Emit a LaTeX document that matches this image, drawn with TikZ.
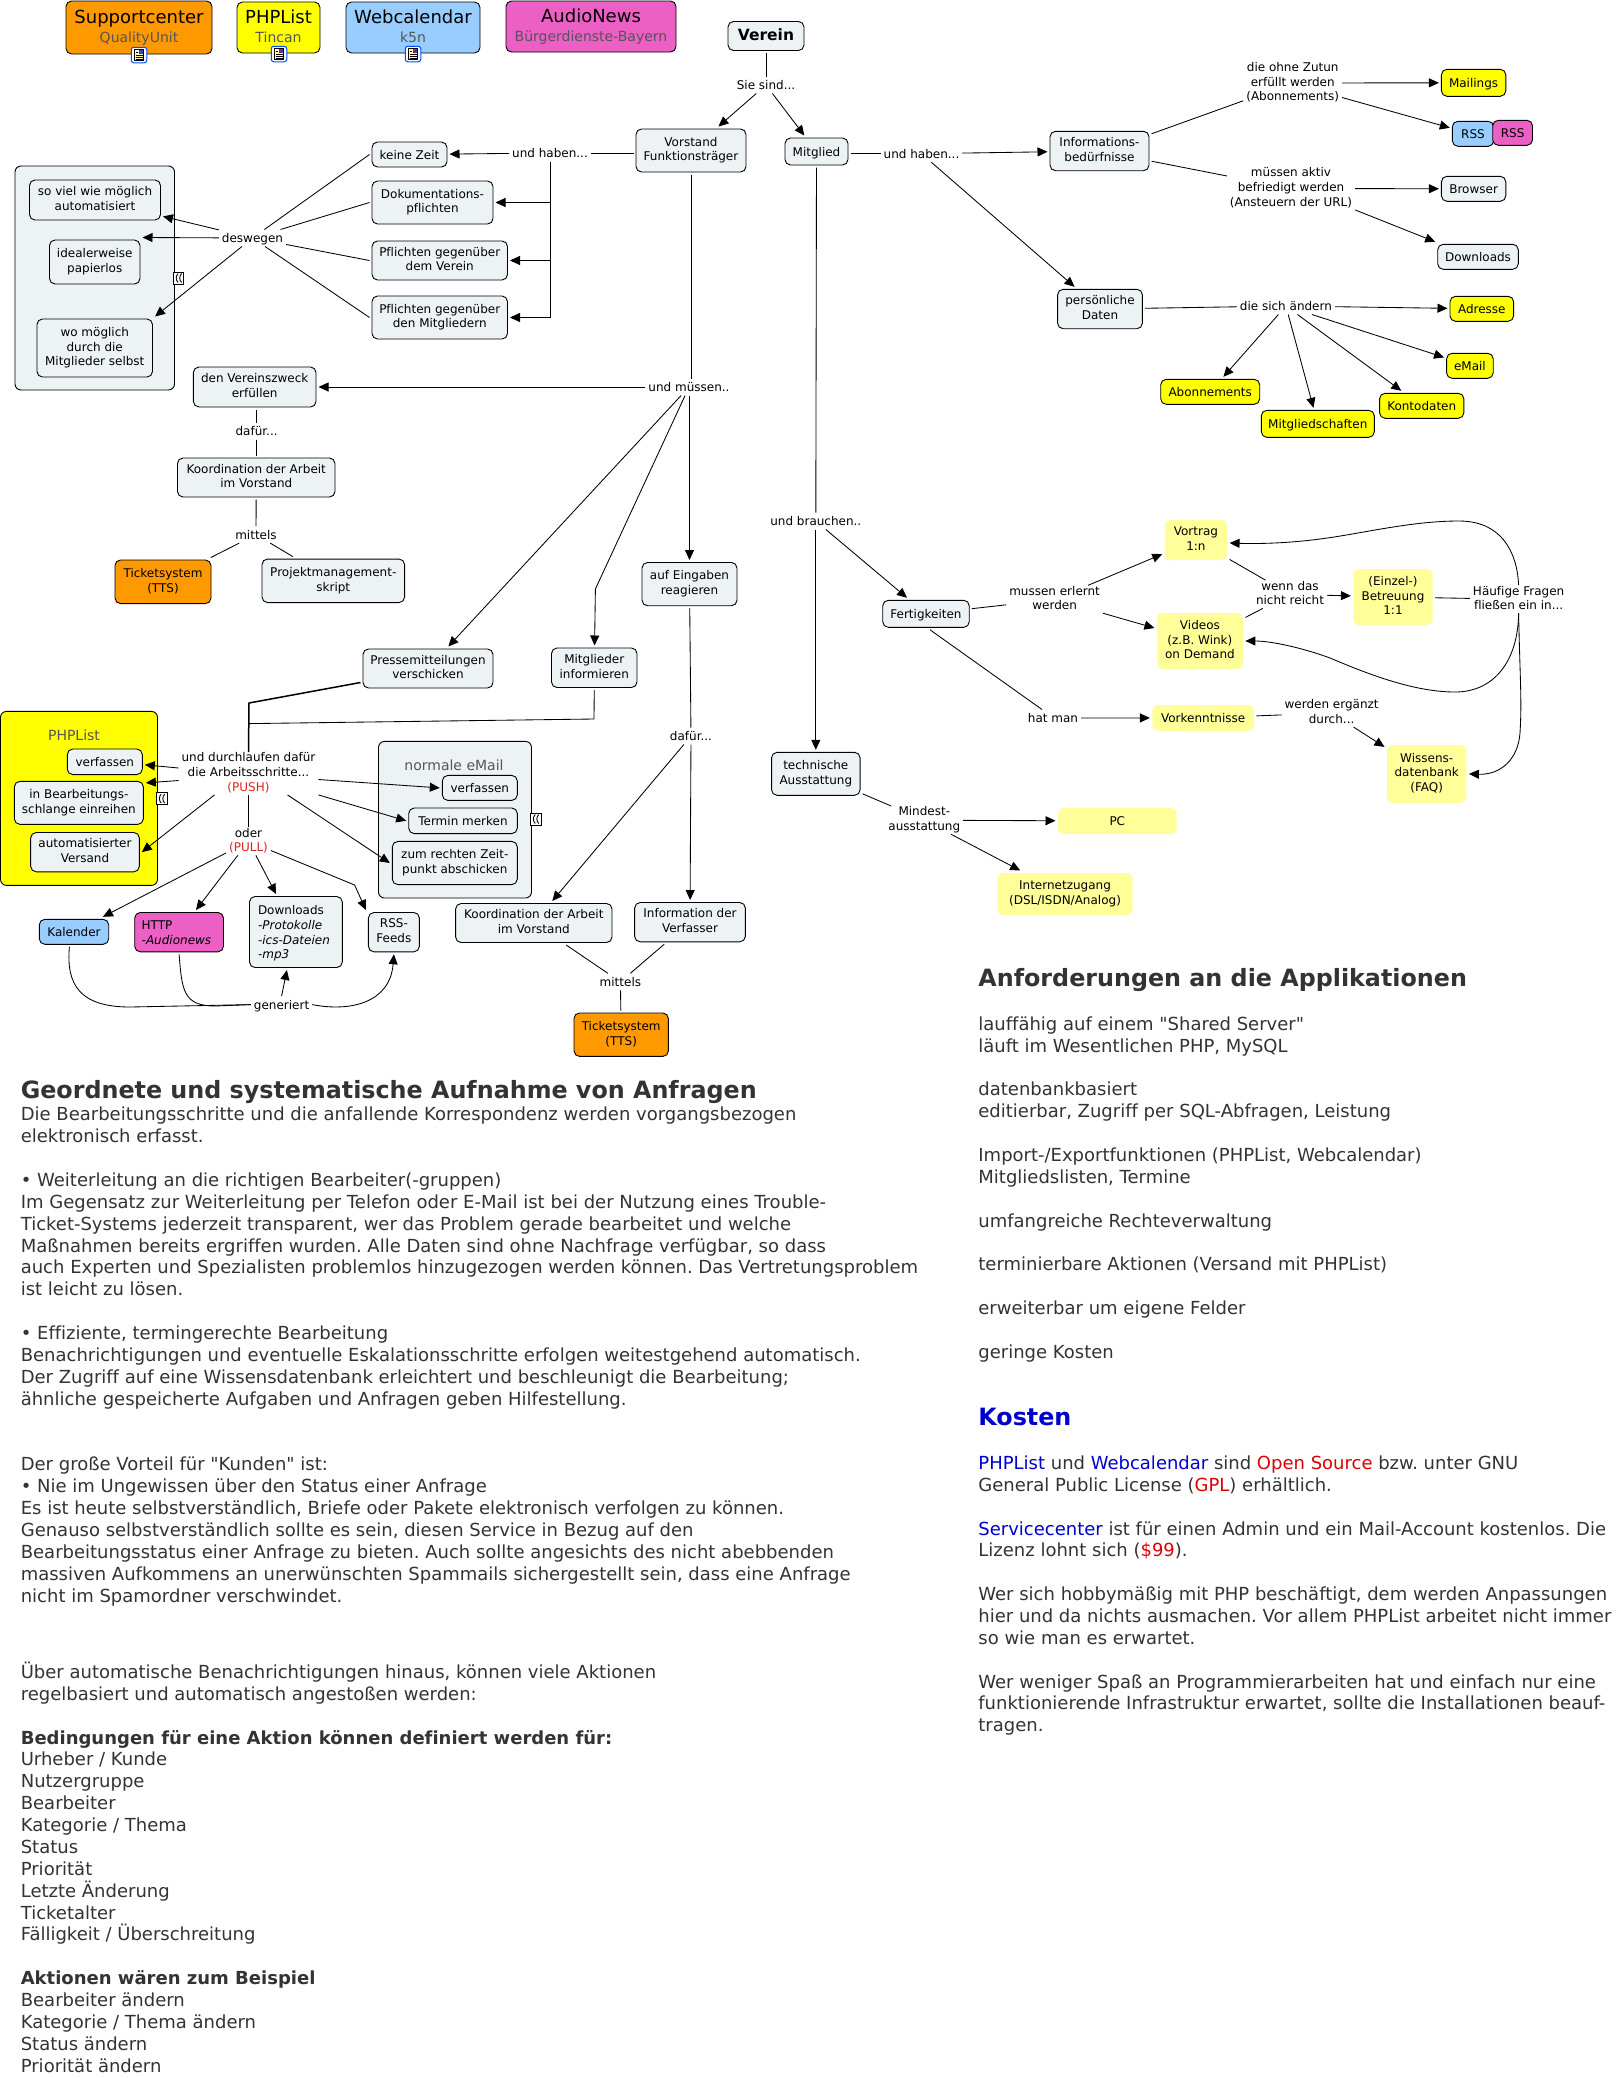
\documentclass[tikz,border=0pt]{standalone}
\usepackage{fontspec}
\setmainfont[Ligatures={NoCommon,TeXOff}]{DejaVu Sans}
\usetikzlibrary{arrows.meta,calc}
\definecolor{nfill}{HTML}{EDF3F5}
\definecolor{cyel}{HTML}{FFFF00}
\definecolor{cpale}{HTML}{FFFF99}
\definecolor{corg}{HTML}{FF9900}
\definecolor{cblu}{HTML}{99CCFF}
\definecolor{cpnk}{HTML}{EC5FC4}
\definecolor{csub}{HTML}{555555}
\definecolor{txt}{HTML}{333333}
\definecolor{pushred}{HTML}{DD2222}
\definecolor{lnkb}{HTML}{0000CC}
\definecolor{lnkr}{HTML}{DD0000}
\newcommand\smalltxt{\fontsize{12}{14.6}\selectfont}
\newcommand\bodytxt{\fontsize{18}{21.87}\selectfont\frenchspacing}
\newcommand\headtxt{\fontsize{23.8}{28}\selectfont\bfseries}
\tikzset{
  sz/.style 2 args={minimum width=#1pt,minimum height=#2pt},
  cbox/.style={draw=black,line width=.9pt,rounded corners=5.5pt,fill=nfill,align=center,
    inner sep=0pt,outer sep=2.5pt,font=\smalltxt,text=black,
    execute at begin node={\rule{0pt}{12.5pt}},execute at end node={\rule[-3pt]{0pt}{3pt}}},
  ybox/.style={cbox,fill=cyel},
  obox/.style={cbox,fill=corg},
  bbox/.style={cbox,fill=cblu},
  pbox/.style={cbox,fill=cpnk},
  lbox/.style={cbox,fill=cpale,draw=none},
  appbox/.style={cbox,font=\fontsize{18}{19}\selectfont},
  grpbox/.style={draw=black,line width=.9pt,rounded corners=6pt,inner sep=0pt},
  lbl/.style={align=center,inner xsep=3pt,inner ysep=.75pt,outer sep=0pt,font=\smalltxt,text=black,
    execute at begin node={\rule{0pt}{12.5pt}},execute at end node={\rule[-3pt]{0pt}{3pt}}},
  grptitle/.style={font=\fontsize{14}{17}\selectfont,text=#1,inner sep=0pt},
  blocktxt/.style={anchor=north west,inner sep=0pt,align=left,font=\bodytxt,text=txt,
    execute at begin node={\rule{0pt}{17pt}}},
  headnode/.style={anchor=base west,inner sep=0pt,font=\headtxt,text=txt},
  ln/.style={draw=black,line width=.85pt},
  arr/.style={ln,-{Triangle[length=10pt,width=9pt]}},
  iconnode/.style={draw=blue!70!cyan,fill=white,line width=1pt,rounded corners=2.5pt,minimum width=15.5pt,minimum height=15.5pt,inner sep=0pt},
  foldnode/.style={draw=black,fill=white,line width=.9pt,minimum width=10.5pt,minimum height=12pt,inner sep=0pt}
}
\newcommand\subfont{\fontsize{14}{19}\selectfont\color{csub}}
\newcommand\noteicon[3]{%
  \node[iconnode] (#1) at (#2,#3) {};
  \fill[cpale!70!white,draw=black,line width=.5pt] ($(#1.center)+(-4.5pt,-5.5pt)$) rectangle ($(#1.center)+(4.5pt,5.5pt)$);
  \fill[blue!50!gray] ($(#1.center)+(-.5pt,1pt)$) rectangle ($(#1.center)+(3.8pt,4.8pt)$);
  \fill[red!70!black] ($(#1.center)+(-.5pt,1pt)$) rectangle ($(#1.center)+(1.5pt,2.5pt)$);
  \draw[black,line width=.7pt] ($(#1.center)+(-3.5pt,3pt)$) -- ++(2pt,0pt)
    ($(#1.center)+(-3.5pt,-.7pt)$) -- ++(7pt,0pt)
    ($(#1.center)+(-3.5pt,-2.5pt)$) -- ++(7pt,0pt)
    ($(#1.center)+(-3.5pt,-4.2pt)$) -- ++(7pt,0pt);}
\newcommand\foldicon[3]{%
  \node[foldnode] (#1) at (#2,#3) {};
  \draw[black,line width=.9pt] ($(#1.center)+(-.5pt,4.5pt)$) .. controls ($(#1.center)+(-3pt,1.5pt)$) and ($(#1.center)+(-3pt,-1.5pt)$) .. ($(#1.center)+(-.5pt,-4.5pt)$)
    ($(#1.center)+(3pt,4.5pt)$) .. controls ($(#1.center)+(.5pt,1.5pt)$) and ($(#1.center)+(.5pt,-1.5pt)$) .. ($(#1.center)+(3pt,-4.5pt)$);}
\begin{document}
\begin{tikzpicture}[x=1pt,y=-1pt]
\fill[white] (0,0) rectangle (1621,2078);
\useasboundingbox (0,0) rectangle (1621,2078);

% application boxes
\node[appbox,fill=corg,sz={146}{53}] (sc) at (139,27.5) {Supportcenter\\{\subfont QualityUnit}};
\node[appbox,fill=cyel,sz={83}{51}] (pl) at (278.5,27.5) {PHPList\\{\subfont Tincan}};
\node[appbox,fill=cblu,sz={134}{51}] (wc) at (413,27.5) {Webcalendar\\{\subfont k5n}};
\node[appbox,fill=cpnk,sz={170}{51}] (an) at (591,26.5) {AudioNews\\{\subfont Bürgerdienste-Bayern}};
\noteicon{ic1}{139}{55}
\noteicon{ic2}{279}{54}
\noteicon{ic3}{413}{54}

% groups
\node[grpbox,fill=nfill,sz={159.5}{224}] (grp1) at (94.75,278) {};
\node[grpbox,fill=cyel,sz={157}{174}] (grp2) at (79,798.4) {};
\node[grpbox,fill=nfill,sz={153}{156.6}] (grp3) at (455,819.7) {};
\node[grptitle=csub] (grp2t) at (74,735) {PHPList};
\node[grptitle=csub] (grp3t) at (454,765.7) {normale eMail};
\foldicon{fo1}{178.6}{278}
\foldicon{fo2}{161.7}{798.6}
\foldicon{fo3}{535.7}{819}

% concept nodes - centre
\node[cbox,sz={76}{29},font=\fontsize{15.5}{18}\selectfont\bfseries] (verein) at (766,36) {Verein};
\node[lbl] (siesind) at (766,85) {Sie sind...};
\node[cbox,sz={110}{43}] (vorstand) at (691,150.5) {Vorstand\\Funktionsträger};
\node[cbox,sz={63}{27}] (mitglied) at (816.5,151.5) {Mitglied};

% left duties
\node[cbox,sz={75}{25}] (keine) at (409.5,154.5) {keine Zeit};
\node[cbox,sz={121}{43}] (doku) at (432.5,202.5) {Dokumentations-\\pflichten};
\node[cbox,sz={135.5}{39}] (pfver) at (439.75,260.5) {Pflichten gegenüber\\dem Verein};
\node[cbox,sz={135.5}{43}] (pfmit) at (439.75,317.5) {Pflichten gegenüber\\den Mitgliedern};
\node[lbl] (haben1) at (550,153) {und haben...};
\node[lbl] (deswegen) at (252.5,238) {deswegen};
\node[cbox,sz={131}{40}] (soviel) at (95,200) {so viel wie möglich\\automatisiert};
\node[cbox,sz={90.5}{44}] (ideal) at (94.75,262) {idealerweise\\papierlos};
\node[cbox,sz={115.5}{58}] (womog) at (94.75,348) {wo möglich\\durch die\\Mitglieder selbst};

% müssen
\node[lbl] (muessen) at (689,387) {und müssen..};
\node[cbox,sz={122.6}{40}] (zweck) at (254.7,387) {den Vereinszweck\\erfüllen};
\node[lbl] (dafuer1) at (256.6,431) {dafür...};
\node[cbox,sz={157.5}{39}] (koord1) at (256.25,477.5) {Koordination der Arbeit\\im Vorstand};
\node[lbl] (mittels1) at (256,534.6) {mittels};
\node[obox,sz={96}{43.6}] (ticket1) at (163,581.8) {Ticketsystem\\(TTS)};
\node[cbox,sz={142.6}{43.5}] (projekt) at (333.3,580.8) {Projektmanagement-\\skript};
\node[cbox,sz={95}{43.2}] (eingaben) at (689.5,584.1) {auf Eingaben\\reagieren};
\node[cbox,sz={130}{39}] (presse) at (428,668.5) {Pressemitteilungen\\verschicken};
\node[cbox,sz={85.5}{39.5}] (miinfo) at (594.25,667.75) {Mitglieder\\informieren};
\coordinate (mibend) at (595.4,589);
\coordinate (prbend) at (249,703);
\coordinate (mibend2) at (594,719);
\coordinate (join) at (249,723.6);

% push / pull
\node[lbl] (durch) at (248.5,773.5) {und durchlaufen dafür\\die Arbeitsschritte...\\\textcolor{pushred}{(PUSH)}};
\node[cbox,sz={75}{25.6}] (pverf) at (104.8,761.8) {verfassen};
\node[cbox,sz={129}{43}] (pbear) at (78.85,802.85) {in Bearbeitungs-\\schlange einreihen};
\node[cbox,sz={108.7}{39.3}] (pauto) at (85,852.15) {automatisierter\\Versand};
\node[cbox,sz={75}{25}] (everf) at (479.8,787.9) {verfassen};
\node[cbox,sz={108.6}{25.6}] (termin) at (463,820.8) {Termin merken};
\node[cbox,sz={125}{43.2}] (zum) at (454.8,863) {zum rechten Zeit-\\punkt abschicken};
\node[lbl] (oder) at (248.5,841.3) {oder\\\textcolor{pushred}{(PULL)}};
\node[bbox,sz={69.4}{25}] (kalender) at (74,931.8) {Kalender};
\node[pbox,sz={88.8}{39.3},align=left,text width=74.8pt,inner xsep=7pt] (http) at (179.1,932.15) {HTTP\\\textit{-Audionews}};
\node[cbox,sz={92.8}{71},align=left,text width=75.8pt,inner xsep=8.5pt] (dlnode) at (295.9,932) {Downloads\\\textit{-Protokolle}\\\textit{-ics-Dateien}\\\textit{-mp3}};
\node[cbox,sz={51}{39.3}] (rssfeeds) at (393.9,932.15) {RSS-\\Feeds};
\coordinate (rssbend) at (354.6,885);
\node[lbl] (generiert) at (281.6,1004.6) {generiert};

% dafür 2
\node[lbl] (dafuer2) at (691,736) {dafür...};
\node[cbox,sz={156.4}{39}] (koord2) at (533.8,923) {Koordination der Arbeit\\im Vorstand};
\node[cbox,sz={110.7}{39.3}] (infover) at (690,922.15) {Information der\\Verfasser};
\node[lbl] (mittels2) at (620.4,981.8) {mittels};
\node[obox,sz={94.4}{43.4}] (ticket2) at (621.2,1034.7) {Ticketsystem\\(TTS)};

% right top
\node[lbl] (haben2) at (921.5,153.7) {und haben...};
\node[cbox,sz={99}{39.4}] (infobed) at (1099.5,151) {Informations-\\bedürfnisse};
\node[cbox,sz={84.8}{39.4}] (pers) at (1100,309) {persönliche\\Daten};
\node[lbl] (dieohne) at (1292.7,83) {die ohne Zutun\\erfüllt werden\\(Abonnements)};
\node[lbl] (aktiv) at (1291,188.5) {müssen aktiv\\befriedigt werden\\(Ansteuern der URL)};
\node[ybox,sz={64.4}{27}] (mailings) at (1473.6,82.8) {Mailings};
\node[bbox,sz={41.3}{25}] (rssb) at (1473,133.8) {RSS};
\node[pbox,sz={39.8}{25}] (rssp) at (1512.6,132.8) {RSS};
\node[cbox,sz={64.4}{25}] (browser) at (1473.6,188.8) {Browser};
\node[cbox,sz={80.6}{25}] (dlright) at (1478,256.8) {Downloads};
\node[lbl] (diesich) at (1285.9,306) {die sich ändern};
\node[ybox,sz={63.6}{25}] (adresse) at (1481.8,308.8) {Adresse};
\node[ybox,sz={46.6}{25}] (email) at (1469.9,365.8) {eMail};
\node[ybox,sz={99}{25}] (abo) at (1210.2,391.8) {Abonnements};
\node[ybox,sz={113}{27}] (mitgschaft) at (1317.8,423.8) {Mitgliedschaften};
\node[ybox,sz={84.3}{25}] (konto) at (1421.7,405.8) {Kontodaten};

% right middle
\node[lbl] (brauchen) at (815.8,521) {und brauchen..};
\node[cbox,sz={86.5}{27}] (fert) at (926,613.8) {Fertigkeiten};
\node[lbl] (mussen) at (1054.6,599.4) {mussen erlernt\\werden};
\node[lbox,sz={62.3}{40}] (vortrag) at (1195.9,540) {Vortrag\\1:n};
\node[lbox,sz={85.9}{56}] (videos) at (1199.9,641) {Videos\\(z.B. Wink)\\on Demand};
\node[lbl] (wenn) at (1290,594.3) {wenn das\\nicht reicht};
\node[lbox,sz={79.2}{56}] (einzel) at (1393,597) {(Einzel-)\\Betreuung\\1:1};
\node[lbl] (haeufig) at (1518.6,599.3) {Häufige Fragen\\fließen ein in...};
\node[lbl] (hatman) at (1053,718) {hat man};
\node[lbox,sz={101.6}{25.7}] (vork) at (1203.2,717.9) {Vorkenntnisse};
\node[lbl] (werden) at (1331.6,713) {werden ergänzt\\durch...};
\node[lbox,sz={79.4}{57.7}] (wissens) at (1426.7,773.9) {Wissens-\\datenbank\\(FAQ)};
\node[cbox,sz={88.5}{43}] (technik) at (815.8,773.8) {technische\\Ausstattung};
\node[lbl] (mindest) at (924.3,820.2) {Mindest-\\ausstattung};
\node[lbox,sz={118.6}{26}] (pcnode) at (1117.3,821) {PC};
\node[lbox,sz={135.4}{42}] (inet) at (1065,894) {Internetzugang\\(DSL/ISDN/Analog)};

% connectors
\draw[ln] (verein) -- (siesind);
\draw[arr] (siesind) -- (vorstand);
\draw[arr] (siesind) -- (mitglied);
\draw[ln] (haben1) -- (vorstand.west |- haben1);
\draw[arr] (haben1) -- (keine);
\draw[arr] (haben1.south) |- (doku);
\draw[arr] (haben1.south) |- (pfver);
\draw[arr] (haben1.south) |- (pfmit);
\draw[ln] (keine.west) -- (deswegen);
\draw[ln] (doku.west) -- (deswegen);
\draw[ln] (pfver.west) -- (deswegen);
\draw[ln] (pfmit.west) -- (deswegen);
\draw[arr] (deswegen) -- (soviel);
\draw[arr] (deswegen) -- (ideal.north east);
\draw[arr] (deswegen) -- (womog.north east);
\draw[ln] (vorstand.south) -- (vorstand.south |- muessen.north);
\draw[arr] (muessen) -- (zweck);
\draw[ln] (dafuer1) -- (dafuer1 |- zweck.south);
\draw[ln] (dafuer1) -- (dafuer1 |- koord1.north);
\draw[ln] (koord1) -- (mittels1);
\draw[ln] (mittels1) -- (ticket1);
\draw[ln] (mittels1) -- (projekt);
\draw[arr] (muessen) -- (presse);
\draw[arr] (muessen) -- (mibend) -- (miinfo);
\draw[arr] (eingaben |- muessen.south) -- (eingaben);
\draw[line width=1.5pt] ([yshift=-14pt]presse.west) -- (prbend) -- (durch.north);
\draw[ln] (miinfo.south) -- (mibend2) -- (join);
\draw[arr] ([yshift=5.5pt]durch.west) -- ([yshift=-3pt]pverf.east);
\draw[arr] ([yshift=-7pt]durch.west) -- ([yshift=-4pt]pbear.north east);
\draw[arr] ([xshift=-34pt]durch.south) -- (pauto.east);
\draw[arr] ([yshift=-6pt]durch.east) -- (everf.west);
\draw[arr] (durch.south east) -- (termin.west);
\draw[arr] ([xshift=39pt]durch.south) -- (zum.west);
\draw[ln] (durch) -- (oder);
\draw[arr] (oder) -- (kalender);
\draw[arr] (oder) -- (http);
\draw[arr] (oder) -- (dlnode);
\draw[arr] (oder) -- (rssbend) -- (rssfeeds.north west);
\draw[ln] ([xshift=-4.6pt]kalender.south) .. controls (66,985) and (80,1007) .. (130,1007) -- (generiert.west);
\draw[ln] (http.south) .. controls (182,990) and (183,1006) .. (215,1006) -- (generiert.west);
\draw[arr] (generiert.north) -- ([xshift=-9pt]dlnode.south);
\draw[arr] (generiert.east) .. controls (350,1012) and (390,1003) .. (rssfeeds.south);
\draw[ln] (eingaben) -- (dafuer2);
\draw[arr] (dafuer2) -- (infover);
\draw[arr] (dafuer2) -- (koord2);
\draw[ln] (koord2) -- (mittels2);
\draw[ln] (infover) -- (mittels2);
\draw[ln] (mittels2) -- (ticket2);
\draw[ln] (mitglied.east |- haben2) -- (haben2);
\draw[arr] (haben2) -- (infobed);
\draw[arr] (haben2) -- (pers);
\draw[ln] ([yshift=-5pt]infobed.north east) -- (dieohne);
\draw[ln] ([yshift=12pt]infobed.south east) -- (aktiv);
\draw[arr] (dieohne) -- (mailings);
\draw[arr] ([yshift=-14.5pt]dieohne.east) -- ([yshift=6pt]rssb.west);
\draw[arr] (aktiv) -- (browser);
\draw[arr] (aktiv.south east) -- (dlright.north west);
\draw[ln] (pers) -- (diesich);
\draw[arr] (diesich) -- (adresse);
\draw[arr] (diesich) -- (abo);
\draw[arr] (diesich) -- (mitgschaft);
\draw[arr] (diesich) -- (konto);
\draw[arr] (diesich) -- (email);
\draw[ln] (mitglied) -- (brauchen);
\draw[arr] (brauchen) -- (technik);
\draw[arr] (brauchen) -- (fert);
\draw[ln] (fert) -- (mussen);
\draw[arr] (mussen) -- (vortrag);
\draw[arr] (mussen) -- (videos);
\draw[ln] ([xshift=4pt]fert.south) -- ([xshift=-11pt]hatman.north);
\draw[arr] (hatman) -- (vork);
\draw[ln] (vork) -- (werden);
\draw[arr] (werden) -- (wissens);
\draw[ln] (vortrag) -- (wenn);
\draw[ln] (videos) -- (wenn);
\draw[arr] (wenn) -- (einzel);
\draw[ln] (einzel) -- (haeufig);
\draw[arr] (haeufig.north) .. controls (1517,550) and (1500,521) .. (1459,521)
   .. controls (1410,521) and (1360,534) .. (1320,539)
   .. controls (1290,543) and (1260,544) .. ([yshift=-3pt]vortrag.east);
\draw[arr] (haeufig.south) .. controls (1518,660) and (1495,692) .. (1455,692)
   .. controls (1415,692) and (1370,675) .. (1330,658)
   .. controls (1300,647) and (1270,641) .. (videos.east);
\draw[arr] (haeufig.south) .. controls (1520,680) and (1522,700) .. (1520,733)
   .. controls (1518,760) and (1500,775) .. (wissens.east);
\draw[ln] (technik) -- (mindest);
\draw[arr] (mindest) -- (pcnode);
\draw[arr] (mindest) -- (inet);

% text blocks
\node[headnode] (h1) at (20.6,1098.3) {Geordnete und systematische Aufnahme von Anfragen};
\node[blocktxt] (t1) at (20.6,1107) {Die Bearbeitungsschritte und die anfallende Korrespondenz werden vorgangsbezogen\\
elektronisch erfasst.\\
\mbox{}\\
• Weiterleitung an die richtigen Bearbeiter(-gruppen)\\
Im Gegensatz zur Weiterleitung per Telefon oder E-Mail ist bei der Nutzung eines Trouble-\\
Ticket-Systems jederzeit transparent, wer das Problem gerade bearbeitet und welche\\
Maßnahmen bereits ergriffen wurden. Alle Daten sind ohne Nachfrage verfügbar, so dass\\
auch Experten und Spezialisten problemlos hinzugezogen werden können. Das Vertretungsproblem\\
ist leicht zu lösen.\\
\mbox{}\\
• Effiziente, termingerechte Bearbeitung\\
Benachrichtigungen und eventuelle Eskalationsschritte erfolgen weitestgehend automatisch.\\
Der Zugriff auf eine Wissensdatenbank erleichtert und beschleunigt die Bearbeitung;\\
ähnliche gespeicherte Aufgaben und Anfragen geben Hilfestellung.\\
\mbox{}\\
\mbox{}\\
Der große Vorteil für "Kunden" ist:\\
• Nie im Ungewissen über den Status einer Anfrage\\
Es ist heute selbstverständlich, Briefe oder Pakete elektronisch verfolgen zu können.\\
Genauso selbstverständlich sollte es sein, diesen Service in Bezug auf den\\
Bearbeitungsstatus einer Anfrage zu bieten. Auch sollte angesichts des nicht abebbenden\\
massiven Aufkommens an unerwünschten Spammails sichergestellt sein, dass eine Anfrage\\
nicht im Spamordner verschwindet.};
\node[blocktxt] (t2) at (20.6,1661.8) {Über automatische Benachrichtigungen hinaus, können viele Aktionen\\
regelbasiert und automatisch angestoßen werden:\\
\mbox{}\\
\textbf{Bedingungen für eine Aktion können definiert werden für:}\\
Urheber / Kunde\\
Nutzergruppe\\
Bearbeiter\\
Kategorie / Thema\\
Status\\
Priorität\\
Letzte Änderung\\
Ticketalter\\
Fälligkeit / Überschreitung\\
\mbox{}\\
\textbf{Aktionen wären zum Beispiel}\\
Bearbeiter ändern\\
Kategorie / Thema ändern\\
Status ändern\\
Priorität ändern};
\node[headnode] (h2) at (978.2,986) {Anforderungen an die Applikationen};
\node[blocktxt] (t3) at (978.2,1016.3) {lauffähig auf einem "Shared Server"\\
läuft im Wesentlichen PHP, MySQL\\
\mbox{}\\
datenbankbasiert\\
editierbar, Zugriff per SQL-Abfragen, Leistung\\
\mbox{}\\
Import-/Exportfunktionen (PHPList, Webcalendar)\\
Mitgliedslisten, Termine\\
\mbox{}\\
umfangreiche Rechteverwaltung\\
\mbox{}\\
terminierbare Aktionen (Versand mit PHPList)\\
\mbox{}\\
erweiterbar um eigene Felder\\
\mbox{}\\
geringe Kosten};
\node[headnode,text=lnkb] (h3) at (978.2,1425.3) {Kosten};
\node[blocktxt] (t4) at (978.2,1455.5) {\textcolor{lnkb}{PHPList} und \textcolor{lnkb}{Webcalendar} sind \textcolor{lnkr}{Open Source} bzw. unter GNU\\
General Public License (\textcolor{lnkr}{GPL}) erhältlich.\\
\mbox{}\\
\textcolor{lnkb}{Servicecenter} ist für einen Admin und ein Mail-Account kostenlos. Die\\
Lizenz lohnt sich (\textcolor{lnkr}{\$99}).\\
\mbox{}\\
Wer sich hobbymäßig mit PHP beschäftigt, dem werden Anpassungen\\
hier und da nichts ausmachen. Vor allem PHPList arbeitet nicht immer\\
so wie man es erwartet.\\
\mbox{}\\
Wer weniger Spaß an Programmierarbeiten hat und einfach nur eine\\
funktionierende Infrastruktur erwartet, sollte die Installationen beauf-\\
tragen.};
\end{tikzpicture}
\end{document}
